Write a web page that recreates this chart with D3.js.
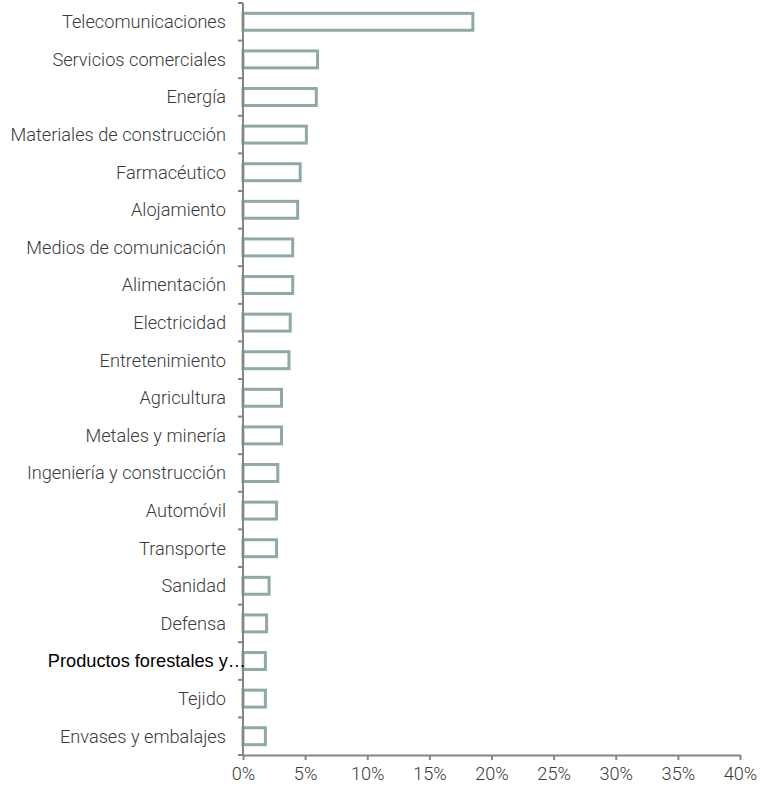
<!DOCTYPE html>
<html>
<head>
<meta charset="utf-8">
<script src="https://cdn.jsdelivr.net/npm/d3@7"></script>
<style>
  html, body { margin: 0; padding: 0; background: #fff; }
  svg text { font-family: Roboto, "Noto Sans", sans-serif; font-weight: 300; }
</style>
</head>
<body>
<svg id="chart" width="775" height="788"></svg>
<script>
// Sector shares, in percent
const sectors = [
  "Telecomunicaciones", "Servicios comerciales", "Energía", "Materiales de construcción",
  "Farmacéutico", "Alojamiento", "Medios de comunicación", "Alimentación",
  "Electricidad", "Entretenimiento", "Agricultura", "Metales y minería",
  "Ingeniería y construcción", "Automóvil", "Transporte", "Sanidad",
  "Defensa", "Productos forestales y…", "Tejido", "Envases y embalajes"
];
const shares = [
  18.5, 6.0, 5.9, 5.1,
  4.6, 4.4, 4.0, 4.0,
  3.8, 3.7, 3.1, 3.1,
  2.8, 2.7, 2.7, 2.1,
  1.9, 1.8, 1.8, 1.8
];
const xTicks = [0, 5, 10, 15, 20, 25, 30, 35, 40];

const svg = d3.select("#chart");
const plotLeft = 243, plotRight = 740, plotTop = 3, plotBottom = 755;

const x = d3.scaleLinear().domain([0, 40]).range([plotLeft, plotRight]);
const y = d3.scaleBand().domain(sectors).range([plotTop, plotBottom]).paddingInner(0.55).paddingOuter(0.275);

const rows = sectors.map((s, i) => ({ name: s, value: shares[i] }));

// Bars: white fill with sage outline
svg.append("g").selectAll("rect").data(rows).join("rect")
  .attr("x", x(0))
  .attr("y", d => y(d.name))
  .attr("width", d => x(d.value) - x(0))
  .attr("height", y.bandwidth())
  .attr("fill", "#fff")
  .attr("stroke", "#8fab9e")
  .attr("stroke-width", 3);

// Category axis: ticks sit on band boundaries
const yAxis = svg.append("g").attr("transform", `translate(${plotLeft},0)`);
yAxis.append("line").attr("x1", 0).attr("x2", 0).attr("y1", plotTop).attr("y2", plotBottom)
  .attr("stroke", "#858585").attr("stroke-width", 2);
const bounds = sectors.map(s => y(s) - y.step() * y.paddingInner() / 2);
bounds.push(plotBottom);
yAxis.selectAll("line.tk").data(bounds).join("line").attr("class", "tk")
  .attr("x1", -5).attr("x2", 0).attr("y1", d => d).attr("y2", d => d)
  .attr("stroke", "#858585").attr("stroke-width", 2);

const special = "Productos forestales y…";
yAxis.selectAll("text").data(sectors).join("text")
  .attr("x", d => d === special ? 3 : -17)
  .attr("y", d => y(d) + y.bandwidth() / 2)
  .attr("dy", "0.35em")
  .attr("text-anchor", "end")
  .attr("font-size", 18.2)
  .attr("fill", d => d === special ? "#000" : "#3a3a3a")
  .style("font-weight", d => d === special ? 400 : 300)
  .style("font-family", d => d === special ? "'Liberation Sans', Arial, sans-serif" : null)
  .text(d => d);

// Value axis
const xAxis = svg.append("g").attr("transform", `translate(0,${plotBottom})`)
  .call(d3.axisBottom(x).tickValues(xTicks).tickFormat(d => d + "%").tickSize(5).tickSizeOuter(0));
xAxis.select(".domain").attr("stroke", "#858585").attr("stroke-width", 2);
xAxis.selectAll(".tick line").attr("stroke", "#858585").attr("stroke-width", 2);
xAxis.selectAll(".tick text").attr("font-size", 18.2).attr("fill", "#3a3a3a").attr("dy", "0.95em")
  .style("font-family", "Roboto, sans-serif").style("font-weight", 300);
</script>
</body>
</html>
